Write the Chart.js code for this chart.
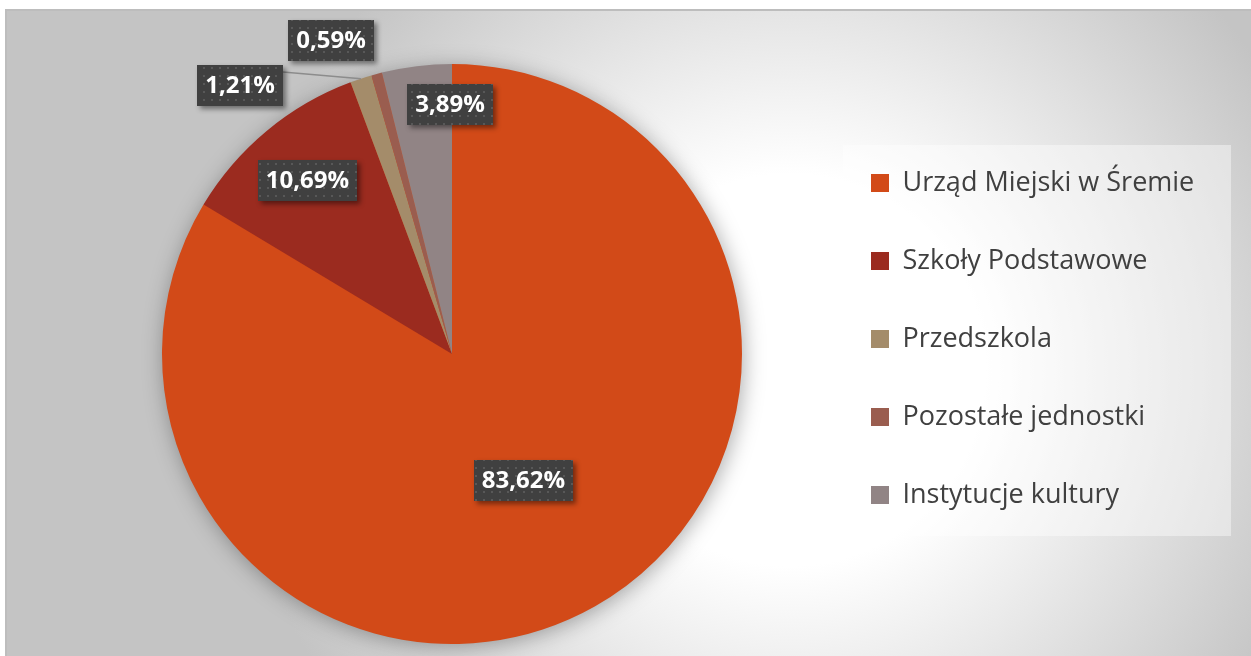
<!DOCTYPE html>
<html>
<head>
<meta charset="utf-8">
<script src="https://cdn.jsdelivr.net/npm/chart.js@4/dist/chart.umd.min.js"></script>
<style>
html, body { margin: 0; background: #fff; }
#wrap { width: 1251px; height: 656px; }
</style>
</head>
<body>
<div id="wrap"><canvas id="statChart"></canvas></div>
<script>
var categories = ['Urząd Miejski w Śremie', 'Szkoły Podstawowe', 'Przedszkola', 'Pozostałe jednostki', 'Instytucje kultury']
var shares = [83.62, 10.69, 1.21, 0.59, 3.89]
var sliceColors = ['#D24A18', '#9B2B1F', '#A48C6A', '#9A5D4F', '#918485']

// label placement: fraction of radius, and angle nudge in degrees (Excel "best fit")
var labelRadius = [0.5, 0.78, 1.18, 1.16, 0.86]
var labelShift = [0, 0, -20, -6, 6.5]

var LEGEND_W = 428

function fmtPct(v) {
	return v.toFixed(2).replace('.', ',') + '%'
}

function dotPattern(ctx) {
	var c = document.createElement('canvas')
	c.width = 8
	c.height = 8
	var g = c.getContext('2d')
	g.fillStyle = 'rgba(255,255,255,0.13)'
	g.fillRect(3, 3, 2, 2)
	return ctx.createPattern(c, 'repeat')
}

var decor = {
	id: 'decor',
	afterInit(chart) {
		var lg = chart.legend
		var fit = lg.fit
		lg.fit = function () {
			fit.call(this)
			this.width = LEGEND_W
		}
	},
	afterLayout(chart) {
		chart.legend.top -= 15
		chart.legend.bottom -= 15
		chart.legend.left -= 3
		chart.legend.right -= 3
	},
	beforeDraw(chart) {
		var ctx = chart.ctx
		var W = chart.width, H = chart.height
		ctx.save()
		ctx.fillStyle = '#ffffff'
		ctx.fillRect(0, 0, W, H)
		var g = ctx.createRadialGradient(790, 370, 0, 790, 370, 560)
		g.addColorStop(0, '#ffffff')
		g.addColorStop(0.35, '#ffffff')
		g.addColorStop(1, '#c4c4c4')
		ctx.fillStyle = g
		ctx.fillRect(6, 10, W - 6, H - 10)
		ctx.strokeStyle = '#bdbdbd'
		ctx.lineWidth = 2
		ctx.beginPath()
		ctx.moveTo(6, H)
		ctx.lineTo(6, 10)
		ctx.lineTo(W, 10)
		ctx.stroke()
		// legend panel
		ctx.fillStyle = 'rgba(255,255,255,0.42)'
		ctx.fillRect(843, 145, 388, 391)
		ctx.restore()
	},
	beforeDatasetsDraw(chart) {
		var arc = chart.getDatasetMeta(0).data[0]
		if (!arc) return
		var ctx = chart.ctx
		ctx.save()
		ctx.shadowColor = 'rgba(0,0,0,0.35)'
		ctx.shadowBlur = 22
		ctx.shadowOffsetX = 2
		ctx.shadowOffsetY = 3
		ctx.fillStyle = sliceColors[0]
		ctx.beginPath()
		ctx.arc(arc.x, arc.y, arc.outerRadius - 1, 0, Math.PI * 2)
		ctx.fill()
		ctx.restore()
	},
	afterDatasetsDraw(chart) {
		var ctx = chart.ctx
		var meta = chart.getDatasetMeta(0)
		var pat = dotPattern(ctx)
		ctx.save()
		ctx.font = 'bold 24px "Open Sans"'
		ctx.textAlign = 'center'
		ctx.textBaseline = 'middle'
		meta.data.forEach((arc, i) => {
			var p = arc.getProps(['x', 'y', 'startAngle', 'endAngle', 'outerRadius'], true)
			var mid = (p.startAngle + p.endAngle) / 2
			var a = mid + labelShift[i] * Math.PI / 180
			var r = p.outerRadius * labelRadius[i]
			var cx = p.x + Math.cos(a) * r
			var cy = p.y + Math.sin(a) * r
			var txt = fmtPct(shares[i])
			var w = Math.round(ctx.measureText(txt).width + 16), h = 41
			var bx = Math.round(cx - w / 2), by = Math.round(cy - h / 2)

			// leader line when an outside label sits away from its slice
			if (labelRadius[i] > 1) {
				var ex = p.x + Math.cos(mid) * p.outerRadius
				var ey = p.y + Math.sin(mid) * p.outerRadius
				var nx = Math.min(Math.max(ex, bx), bx + w)
				var ny = Math.min(Math.max(ey, by), by + h)
				if (Math.hypot(ex - nx, ey - ny) > 25) {
					ctx.strokeStyle = '#8c8c8c'
					ctx.lineWidth = 1.5
					ctx.beginPath()
					ctx.moveTo(ex, ey)
					ctx.lineTo(nx, by + 7)
					ctx.stroke()
				}
			}

			ctx.shadowColor = 'rgba(0,0,0,0.45)'
			ctx.shadowBlur = 5
			ctx.shadowOffsetX = 3
			ctx.shadowOffsetY = 3
			ctx.fillStyle = '#404040'
			ctx.fillRect(bx, by, w, h)
			ctx.shadowColor = 'transparent'
			ctx.shadowBlur = 0
			ctx.shadowOffsetX = 0
			ctx.shadowOffsetY = 0
			ctx.fillStyle = pat
			ctx.fillRect(bx, by, w, h)
			ctx.fillStyle = '#ffffff'
			ctx.fillText(txt, bx + w / 2, by + h / 2 + 1)
		})
		ctx.restore()
	}
}

new Chart(document.getElementById('statChart'), {
	type: 'pie',
	data: {
		labels: categories,
		datasets: [{
			data: shares,
			backgroundColor: sliceColors,
			borderWidth: 0
		}]
	},
	options: {
		responsive: true,
		maintainAspectRatio: false,
		animation: false,
		layout: {
			padding: {left: 81, top: 64, right: 0, bottom: 12}
		},
		plugins: {
			tooltip: {enabled: false},
			legend: {
				position: 'right',
				labels: {
					boxWidth: 18,
					boxHeight: 18,
					padding: 51,
					color: '#404040',
					font: {family: 'Open Sans', size: 27}
				}
			}
		}
	},
	plugins: [decor]
})
</script>
</body>
</html>
